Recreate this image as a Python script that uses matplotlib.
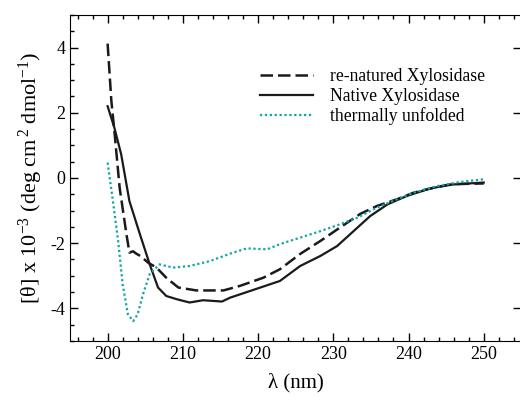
import matplotlib
matplotlib.use("Agg")
import matplotlib.pyplot as plt
from matplotlib.ticker import MultipleLocator

plt.rcParams['font.family'] = ['Liberation Serif', 'DejaVu Serif']
plt.rcParams['mathtext.fontset'] = 'custom'
plt.rcParams['mathtext.rm'] = 'Liberation Serif'
plt.rcParams['mathtext.it'] = 'Liberation Serif:italic'
plt.rcParams['axes.unicode_minus'] = False

# re-natured Xylosidase
wl_ren = [200.0, 200.5, 200.9, 201.6, 202.5, 202.9, 203.4, 203.8, 204.4, 205.4, 206.5, 207.8,
          209.4, 211.8, 215.4, 217.6, 220.7, 222.9, 225.6, 228.3, 230.9, 233.6, 235.8,
          238.5, 240.7, 243.3, 246.0, 249.6, 250.0]
th_ren = [4.12, 2.36, 1.44, -0.30, -1.72, -2.29, -2.25, -2.32, -2.40, -2.60, -2.75, -3.06,
          -3.36, -3.45, -3.45, -3.31, -3.06, -2.80, -2.33, -1.93, -1.52, -1.10, -0.86,
          -0.65, -0.45, -0.30, -0.19, -0.17, -0.17]

# Native Xylosidase
wl_nat = [200.0, 200.9, 201.8, 202.9, 204.3, 205.6, 206.7, 207.8, 209.2, 210.9, 212.7,
          215.2, 216.3, 218.9, 221.6, 222.9, 225.6, 228.3, 230.5, 232.7, 234.9, 237.2,
          239.8, 242.5, 245.2, 250.0]
th_nat = [2.20, 1.54, 0.73, -0.71, -1.73, -2.65, -3.36, -3.62, -3.72, -3.82, -3.75,
          -3.79, -3.67, -3.47, -3.26, -3.16, -2.70, -2.39, -2.09, -1.63, -1.17, -0.81,
          -0.55, -0.35, -0.21, -0.14]

# thermally unfolded
wl_unf = [200.0, 200.7, 201.4, 202.0, 202.7, 203.4, 204.0, 204.7, 205.6, 206.9, 208.7,
          210.9, 213.6, 216.3, 218.5, 221.2, 222.9, 225.6, 228.3, 230.9, 233.2, 235.8,
          238.5, 240.7, 243.8, 246.9, 250.0]
th_unf = [0.47, -0.70, -1.93, -3.26, -4.18, -4.39, -4.18, -3.57, -2.95, -2.65, -2.75,
          -2.70, -2.55, -2.32, -2.16, -2.19, -2.03, -1.83, -1.63, -1.42, -1.22, -0.91,
          -0.65, -0.45, -0.25, -0.12, -0.04]

fig = plt.figure(figsize=(5.2, 4.04), dpi=100)
ax = fig.add_axes([0.1346, 0.156, 0.868, 0.807])

ax.plot(wl_ren, th_ren, color='#1a1a1a', lw=1.8, dashes=(5, 2), label='re-natured Xylosidase')
ax.plot(wl_nat, th_nat, color='#1a1a1a', lw=1.6, label='Native Xylosidase')
ax.plot(wl_unf, th_unf, color='#11a5a5', lw=1.6, dashes=(1, 1.2), label='thermally unfolded')

ax.set_xlim(195, 255)
ax.set_ylim(-5, 5)
ax.xaxis.set_major_locator(MultipleLocator(10))
ax.xaxis.set_minor_locator(MultipleLocator(2))
ax.yaxis.set_major_locator(MultipleLocator(2))
ax.yaxis.set_minor_locator(MultipleLocator(0.5))
ax.tick_params(which='both', direction='in', top=True, labelsize=13)
ax.tick_params(which='major', length=6, width=1)
ax.tick_params(which='minor', length=3, width=1)
ax.tick_params(axis='y', which='major', right=True)
ax.tick_params(axis='y', which='minor', right=False)
ax.set_xticks([200, 210, 220, 230, 240, 250])

ax.set_xlabel('λ (nm)', fontsize=15, labelpad=7)
ax.set_ylabel(r'[θ] x 10$^{\mathrm{-3}}$ (deg cm$^{\,\mathrm{2}}$ dmol$^{\mathrm{-1}}$)',
              fontsize=16, labelpad=4)

ax.legend(frameon=False, loc='upper left', bbox_to_anchor=(0.385, 0.885), fontsize=12.7,
          handlelength=3.0, handletextpad=1.0, labelspacing=0.15)

fig.savefig('out.png', dpi=100)
